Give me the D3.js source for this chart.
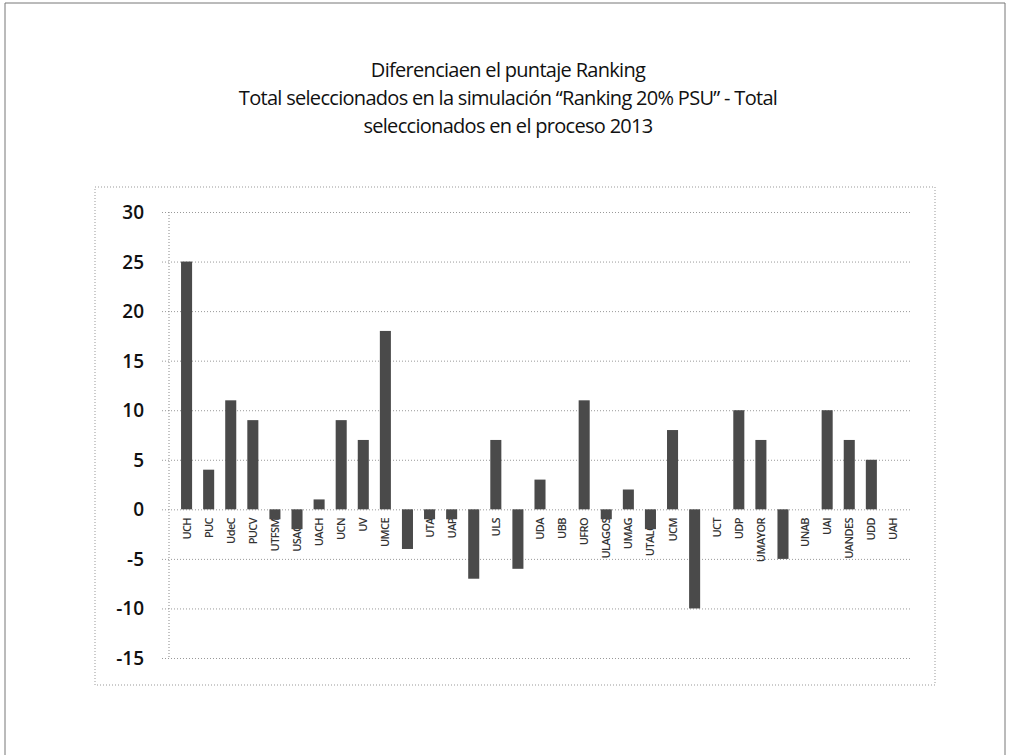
<!DOCTYPE html>
<html>
<head>
<meta charset="utf-8">
<script src="https://cdn.jsdelivr.net/npm/d3@7"></script>
<style>
  body { margin: 0; background: #fff; }
  text { font-family: "Open Sans", "DejaVu Sans", sans-serif; }
</style>
</head>
<body>
<svg id="chart" width="1009" height="755"></svg>
<script>
const universidades = ["UCH","PUC","UdeC","PUCV","UTFSM","USACH","UACH","UCN","UV","UMCE","UTEM","UTA","UAP","UA","ULS","UNAP","UDA","UBB","UFRO","ULAGOS","UMAG","UTALCA","UCM","UCSC","UCT","UDP","UMAYOR","UFT","UNAB","UAI","UANDES","UDD","UAH"]
const diferencia = [25,4,11,9,-1,-2,1,9,7,18,-4,-1,-1,-7,7,-6,3,0,11,-1,2,-2,8,-10,0,10,7,-5,0,10,7,5,0]
const yTicks = [30,25,20,15,10,5,0,-5,-10,-15]
const titulo = ["Diferenciaen el puntaje Ranking",
  "Total seleccionados en la simulación \u201cRanking 20% PSU\u201d -  Total",
  "seleccionados en el proceso 2013"]

const svg = d3.select('#chart')

// marco de la página
svg.append('path')
  .attr('d', 'M5,755 L5,3 L1005,3 L1005,755')
  .attr('fill', 'none')
  .attr('stroke', '#777')
  .attr('stroke-width', 1)

// caja del gráfico (punteada)
svg.append('rect')
  .attr('x', 95).attr('y', 187)
  .attr('width', 840).attr('height', 498)
  .attr('fill', 'none')
  .attr('stroke', '#999')
  .attr('stroke-dasharray', '1,2')

svg.append('g').selectAll('text')
  .data(titulo)
  .join('text')
  .attr('x', 508)
  .attr('y', (d, i) => 77 + i * 28)
  .attr('text-anchor', 'middle')
  .attr('font-size', 20)
  .attr('letter-spacing', -0.7)
  .attr('fill', '#111')
  .text(d => d)

const x = d3.scaleBand()
  .domain(universidades)
  .range([170, 910])
  .padding(0.5)

const y = d3.scaleLinear()
  .domain([-15, 30])
  .range([658, 212])

// grilla
const grid = svg.append('g')
  .attr('transform', 'translate(169,0)')
  .call(d3.axisLeft(y).tickValues(yTicks).tickSize(-741).tickFormat(''))
grid.select('.domain').remove()
grid.selectAll('line')
  .attr('stroke', '#999')
  .attr('stroke-dasharray', '1,2')
  .attr('x1', -7)

// eje y
svg.append('line')
  .attr('x1', 169).attr('x2', 169)
  .attr('y1', y(30)).attr('y2', y(-15))
  .attr('stroke', '#888')
  .attr('stroke-dasharray', '1,2')

svg.append('g').selectAll('text')
  .data(yTicks)
  .join('text')
  .attr('x', 144)
  .attr('y', d => y(d) + 7)
  .attr('text-anchor', 'end')
  .attr('font-size', 19)
  .attr('font-weight', 600)
  .attr('fill', '#111')
  .text(d => d)

// etiquetas (debajo del cero)
svg.append('g').selectAll('text')
  .data(universidades)
  .join('text')
  .attr('transform', d => `translate(${x(d) + x.bandwidth() / 2 + 4},518) rotate(-90)`)
  .attr('text-anchor', 'end')
  .attr('font-size', 11)
  .attr('font-weight', 600)
  .attr('letter-spacing', -0.6)
  .attr('fill', '#333')
  .text(d => d)

// barras
svg.append('g').selectAll('rect')
  .data(diferencia)
  .join('rect')
  .attr('x', (d, i) => x(universidades[i]))
  .attr('y', d => y(Math.max(0, d)))
  .attr('width', x.bandwidth())
  .attr('height', d => Math.abs(y(d) - y(0)))
  .attr('fill', '#4a4a4a')
</script>
</body>
</html>
